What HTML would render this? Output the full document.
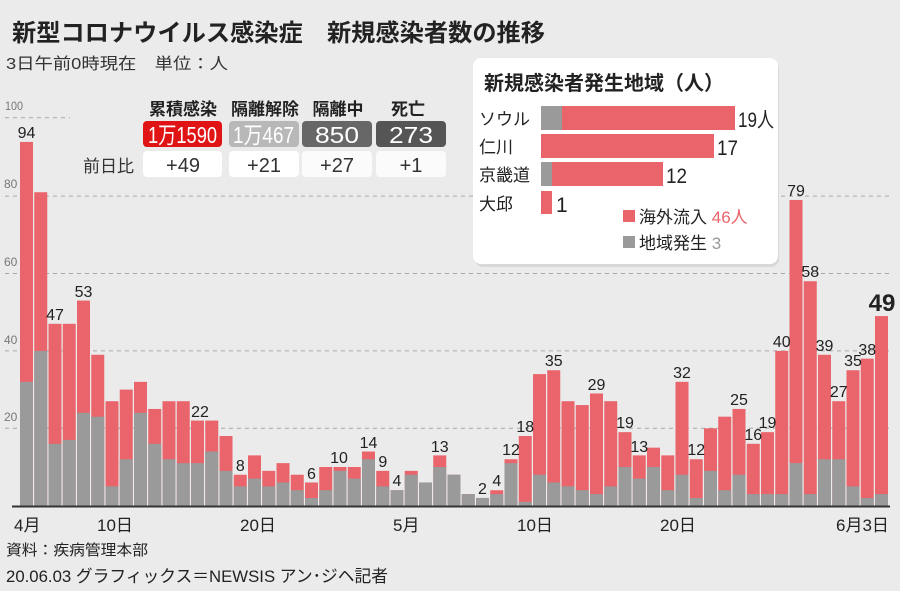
<!DOCTYPE html>
<html><head><meta charset="utf-8">
<style>
html,body{margin:0;padding:0;}
body{width:900px;height:591px;background:#ebebeb;overflow:hidden;position:relative;font-family:"Liberation Sans","Noto Sans CJK JP",sans-serif;}
svg{position:absolute;left:0;top:0;}
</style></head><body>
<svg width="900" height="591" viewBox="0 0 900 591" font-family="Liberation Sans, Noto Sans CJK JP, sans-serif">
<g stroke="#a8a8a8" stroke-width="1" stroke-dasharray="4,4">
<line x1="5" y1="117.7" x2="70" y2="117.7"/>
<line x1="5" y1="196.1" x2="892" y2="196.1"/>
<line x1="5" y1="273.5" x2="892" y2="273.5"/>
<line x1="5" y1="350.9" x2="892" y2="350.9"/>
<line x1="5" y1="428.3" x2="892" y2="428.3"/>
</g>
<g fill="#777" font-size="12">
<text x="5" y="110" textLength="18" lengthAdjust="spacingAndGlyphs">100</text><text x="4" y="188">80</text><text x="4" y="266">60</text><text x="4" y="344">40</text><text x="4" y="421">20</text>
</g>
<g transform="translate(0,505.7) scale(1,-3.87)">
<g fill="#e9646b">
<rect x="20" y="0" width="13" height="94"/><rect x="34.25" y="0" width="13" height="81"/><rect x="48.5" y="0" width="13" height="47"/><rect x="62.75" y="0" width="13" height="47"/><rect x="77" y="0" width="13" height="53"/><rect x="91.25" y="0" width="13" height="39"/><rect x="105.5" y="0" width="13" height="27"/><rect x="119.75" y="0" width="13" height="30"/><rect x="134" y="0" width="13" height="32"/><rect x="148.25" y="0" width="13" height="25"/><rect x="162.5" y="0" width="13" height="27"/><rect x="176.75" y="0" width="13" height="27"/><rect x="191" y="0" width="13" height="22"/><rect x="205.25" y="0" width="13" height="22"/><rect x="219.5" y="0" width="13" height="18"/><rect x="233.75" y="0" width="13" height="8"/><rect x="248" y="0" width="13" height="13"/><rect x="262.25" y="0" width="13" height="9"/><rect x="276.5" y="0" width="13" height="11"/><rect x="290.75" y="0" width="13" height="8"/><rect x="305" y="0" width="13" height="6"/><rect x="319.25" y="0" width="13" height="10"/><rect x="333.5" y="0" width="13" height="10"/><rect x="347.75" y="0" width="13" height="10"/><rect x="362" y="0" width="13" height="14"/><rect x="376.25" y="0" width="13" height="9"/><rect x="390.5" y="0" width="13" height="4"/><rect x="404.75" y="0" width="13" height="9"/><rect x="419" y="0" width="13" height="6"/><rect x="433.25" y="0" width="13" height="13"/><rect x="447.5" y="0" width="13" height="8"/><rect x="461.75" y="0" width="13" height="3"/><rect x="476" y="0" width="13" height="2"/><rect x="490.25" y="0" width="13" height="4"/><rect x="504.5" y="0" width="13" height="12"/><rect x="518.75" y="0" width="13" height="18"/><rect x="533" y="0" width="13" height="34"/><rect x="547.25" y="0" width="13" height="35"/><rect x="561.5" y="0" width="13" height="27"/><rect x="575.75" y="0" width="13" height="26"/><rect x="590" y="0" width="13" height="29"/><rect x="604.25" y="0" width="13" height="27"/><rect x="618.5" y="0" width="13" height="19"/><rect x="632.75" y="0" width="13" height="13"/><rect x="647" y="0" width="13" height="15"/><rect x="661.25" y="0" width="13" height="13"/><rect x="675.5" y="0" width="13" height="32"/><rect x="689.75" y="0" width="13" height="12"/><rect x="704" y="0" width="13" height="20"/><rect x="718.25" y="0" width="13" height="23"/><rect x="732.5" y="0" width="13" height="25"/><rect x="746.75" y="0" width="13" height="16"/><rect x="761" y="0" width="13" height="19"/><rect x="775.25" y="0" width="13" height="40"/><rect x="789.5" y="0" width="13" height="79"/><rect x="803.75" y="0" width="13" height="58"/><rect x="818" y="0" width="13" height="39"/><rect x="832.25" y="0" width="13" height="27"/><rect x="846.5" y="0" width="13" height="35"/><rect x="860.75" y="0" width="13" height="38"/><rect x="875" y="0" width="13" height="49"/>
</g>
<g fill="#9a9a9a">
<rect x="20" y="0" width="13" height="32"/><rect x="34.25" y="0" width="13" height="40"/><rect x="48.5" y="0" width="13" height="16"/><rect x="62.75" y="0" width="13" height="17"/><rect x="77" y="0" width="13" height="24"/><rect x="91.25" y="0" width="13" height="23"/><rect x="105.5" y="0" width="13" height="5"/><rect x="119.75" y="0" width="13" height="12"/><rect x="134" y="0" width="13" height="24"/><rect x="148.25" y="0" width="13" height="16"/><rect x="162.5" y="0" width="13" height="12"/><rect x="176.75" y="0" width="13" height="11"/><rect x="191" y="0" width="13" height="11"/><rect x="205.25" y="0" width="13" height="14"/><rect x="219.5" y="0" width="13" height="9"/><rect x="233.75" y="0" width="13" height="5"/><rect x="248" y="0" width="13" height="7"/><rect x="262.25" y="0" width="13" height="5"/><rect x="276.5" y="0" width="13" height="6"/><rect x="290.75" y="0" width="13" height="4"/><rect x="305" y="0" width="13" height="2"/><rect x="319.25" y="0" width="13" height="4"/><rect x="333.5" y="0" width="13" height="9"/><rect x="347.75" y="0" width="13" height="7"/><rect x="362" y="0" width="13" height="12"/><rect x="376.25" y="0" width="13" height="5"/><rect x="390.5" y="0" width="13" height="4"/><rect x="404.75" y="0" width="13" height="8"/><rect x="419" y="0" width="13" height="6"/><rect x="433.25" y="0" width="13" height="10"/><rect x="447.5" y="0" width="13" height="8"/><rect x="461.75" y="0" width="13" height="3"/><rect x="476" y="0" width="13" height="2"/><rect x="490.25" y="0" width="13" height="3"/><rect x="504.5" y="0" width="13" height="11"/><rect x="518.75" y="0" width="13" height="1"/><rect x="533" y="0" width="13" height="8"/><rect x="547.25" y="0" width="13" height="6"/><rect x="561.5" y="0" width="13" height="5"/><rect x="575.75" y="0" width="13" height="4"/><rect x="590" y="0" width="13" height="3"/><rect x="604.25" y="0" width="13" height="5"/><rect x="618.5" y="0" width="13" height="10"/><rect x="632.75" y="0" width="13" height="7"/><rect x="647" y="0" width="13" height="10"/><rect x="661.25" y="0" width="13" height="4"/><rect x="675.5" y="0" width="13" height="8"/><rect x="689.75" y="0" width="13" height="2"/><rect x="704" y="0" width="13" height="9"/><rect x="718.25" y="0" width="13" height="4"/><rect x="732.5" y="0" width="13" height="8"/><rect x="746.75" y="0" width="13" height="3"/><rect x="761" y="0" width="13" height="3"/><rect x="775.25" y="0" width="13" height="3"/><rect x="789.5" y="0" width="13" height="11"/><rect x="803.75" y="0" width="13" height="3"/><rect x="818" y="0" width="13" height="12"/><rect x="832.25" y="0" width="13" height="12"/><rect x="846.5" y="0" width="13" height="5"/><rect x="860.75" y="0" width="13" height="2"/><rect x="875" y="0" width="13" height="3"/>
</g>
</g>
<line x1="12" y1="506.5" x2="890" y2="506.5" stroke="#333" stroke-width="2"/>
<g fill="#222" font-size="16" text-anchor="middle">
<text x="26.5" y="138">94</text><text x="55" y="320">47</text><text x="83.5" y="297">53</text><text x="200" y="417">22</text><text x="240.3" y="471">8</text><text x="311.5" y="479">6</text><text x="339" y="463">10</text><text x="368.5" y="448">14</text><text x="382.8" y="467">9</text><text x="397" y="486">4</text><text x="439.8" y="452">13</text><text x="482.5" y="494">2</text><text x="496.8" y="486">4</text><text x="511" y="455">12</text><text x="525.3" y="432">18</text><text x="553.8" y="366">35</text><text x="596.5" y="390">29</text><text x="625" y="428">19</text><text x="639.3" y="452">13</text><text x="682" y="378">32</text><text x="696.3" y="455">12</text><text x="739" y="405">25</text><text x="753.3" y="440">16</text><text x="767.5" y="428">19</text><text x="781.8" y="347">40</text><text x="796" y="196">79</text><text x="810.3" y="277">58</text><text x="824.5" y="351">39</text><text x="838.8" y="397">27</text><text x="853" y="366">35</text><text x="867.3" y="355">38</text>
<text x="882" y="311" font-size="24" font-weight="bold">49</text>
</g>
<g fill="#222" font-size="17">
<text x="14" y="531">4月</text><text x="97" y="531">10日</text><text x="240" y="531">20日</text><text x="393" y="531">5月</text><text x="517" y="531">10日</text><text x="660" y="531">20日</text><text x="836" y="531">6月3日</text>
</g>
<text x="12" y="41" font-size="24" font-weight="bold" fill="#222" textLength="533" lengthAdjust="spacingAndGlyphs">新型コロナウイルス感染症　新規感染者数の推移</text>
<text x="6" y="69" font-size="16" fill="#333" textLength="222" lengthAdjust="spacingAndGlyphs">3日午前0時現在　単位：人</text>
<g font-size="17" font-weight="bold" fill="#222" text-anchor="middle">
<text x="183" y="115">累積感染</text><text x="265" y="115">隔離解除</text><text x="338" y="115">隔離中</text><text x="408" y="115">死亡</text>
</g>
<rect x="143" y="121" width="79" height="26" rx="4" fill="#e01414"/>
<rect x="229" y="121" width="70" height="26" rx="4" fill="#b8b8b8"/>
<rect x="302" y="121" width="70" height="26" rx="4" fill="#676767"/>
<rect x="376" y="121" width="70" height="26" rx="4" fill="#555"/>
<g fill="#fff" font-size="23">
<text x="148" y="143" textLength="69" lengthAdjust="spacingAndGlyphs">1万1590</text>
<text x="233" y="143" textLength="61" lengthAdjust="spacingAndGlyphs">1万467</text>
<text x="315" y="143" textLength="44" lengthAdjust="spacingAndGlyphs">850</text>
<text x="389" y="143" textLength="44" lengthAdjust="spacingAndGlyphs">273</text>
</g>
<rect x="143" y="151" width="79" height="26" rx="4" fill="#fff"/>
<rect x="229" y="151" width="70" height="26" rx="4" fill="#fff"/>
<rect x="302" y="151" width="70" height="26" rx="4" fill="#fbfbfb"/>
<rect x="376" y="151" width="70" height="26" rx="4" fill="#fbfbfb"/>
<g fill="#333" font-size="20" text-anchor="middle">
<text x="183" y="172">+49</text><text x="264" y="172">+21</text><text x="337" y="172">+27</text><text x="411" y="172">+1</text>
</g>
<text x="83" y="172" font-size="17" fill="#333">前日比</text>
<rect x="474" y="60" width="304" height="206" rx="8" fill="#000" opacity="0.08" transform="translate(1,1)"/>
<rect x="473" y="58" width="305" height="206" rx="8" fill="#fff"/>
<text x="484" y="90" font-size="20" font-weight="bold" fill="#222">新規感染者発生地域（人）</text>
<g font-size="17" fill="#222">
<text x="479" y="125">ソウル</text><text x="479" y="153">仁川</text><text x="479" y="181">京畿道</text><text x="479" y="210">大邱</text>
</g>
<rect x="541" y="106" width="194" height="24" fill="#e9646b"/><rect x="541" y="106" width="21" height="24" fill="#9a9a9a"/>
<rect x="541" y="134" width="173" height="24" fill="#e9646b"/>
<rect x="541" y="162" width="122" height="24" fill="#e9646b"/><rect x="541" y="162" width="11" height="24" fill="#9a9a9a"/>
<rect x="541" y="191" width="11" height="23" fill="#e9646b"/>
<g font-size="21" fill="#222">
<text x="738" y="127" textLength="36" lengthAdjust="spacingAndGlyphs">19人</text><text x="717" y="155" textLength="21" lengthAdjust="spacingAndGlyphs">17</text><text x="666" y="183" textLength="21" lengthAdjust="spacingAndGlyphs">12</text><text x="556" y="212">1</text>
</g>
<rect x="623" y="210" width="12" height="12" fill="#e9646b"/>
<rect x="623" y="236" width="12" height="12" fill="#9a9a9a"/>
<text x="639" y="223" font-size="17" fill="#222">海外流入 <tspan fill="#e9646b">46人</tspan></text>
<text x="639" y="249" font-size="17" fill="#222">地域発生 <tspan fill="#999">3</tspan></text>
<text x="6" y="555" font-size="15" fill="#222" textLength="142" lengthAdjust="spacingAndGlyphs">資料：疾病管理本部</text>
<text x="6" y="582" font-size="17" fill="#222" textLength="382" lengthAdjust="spacingAndGlyphs">20.06.03 グラフィックス＝NEWSIS アン･ジヘ記者</text>
</svg>
</body></html>
